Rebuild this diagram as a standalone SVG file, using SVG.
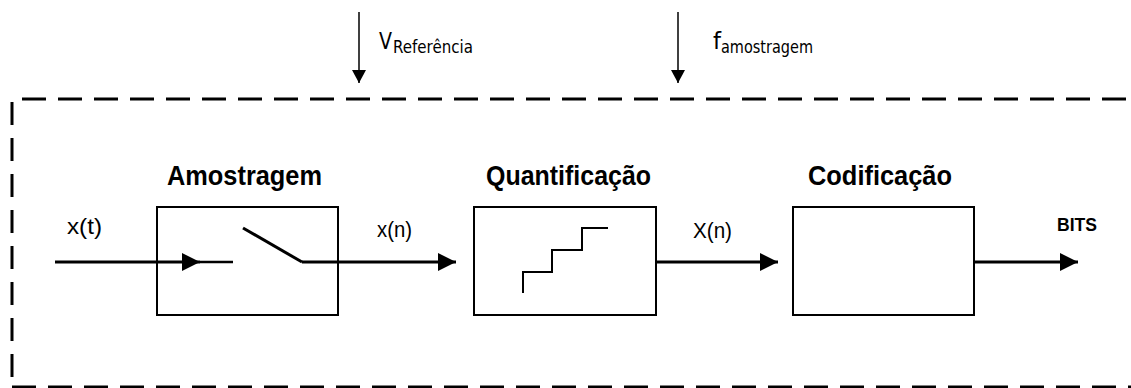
<svg xmlns="http://www.w3.org/2000/svg" width="1131" height="388" viewBox="0 0 1131 388">
<style>
.main{stroke:#000;stroke-width:3;fill:none}
.box{stroke:#000;stroke-width:2;fill:#fff}
.thin{stroke:#000;stroke-width:1.5;fill:none}
.dash{stroke:#000;stroke-width:3;fill:none;stroke-dasharray:24 12}
.lbl{font-family:"Liberation Sans",Arial,sans-serif;font-weight:bold;font-size:27px;fill:#000}
.sig{font-family:"Liberation Sans",Arial,sans-serif;font-size:22px;fill:#000}
.top{font-family:"DejaVu Sans",Verdana,sans-serif;fill:#000}
</style>
<defs>
<marker id="ah" markerUnits="userSpaceOnUse" markerWidth="20" markerHeight="20" refX="18" refY="9" orient="auto">
<path d="M0,0 L18,9 L0,18 Z" fill="#000"/>
</marker>
<marker id="ahs" markerUnits="userSpaceOnUse" markerWidth="16" markerHeight="16" refX="13" refY="7" orient="auto">
<path d="M0,0 L13,7 L0,14 Z" fill="#000"/>
</marker>
</defs>
<g id="border">
<line class="dash" x1="22" y1="99" x2="1140" y2="99"/>
<line class="dash" x1="12" y1="102" x2="12" y2="384" style="stroke-dasharray:23 13"/>
<line class="dash" x1="12" y1="387" x2="1140" y2="387"/>
</g>
<g id="amostragem">
<rect class="box" x="157" y="207" width="181" height="108"/>
<text class="lbl" x="167" y="185" textLength="155" lengthAdjust="spacingAndGlyphs">Amostragem</text>
<line class="main" x1="200" y1="262" x2="233" y2="262" style="stroke-width:2.5"/>
<line class="main" x1="243" y1="228" x2="302" y2="262"/>
</g>
<g id="quantificacao">
<rect class="box" x="474" y="207" width="182" height="108"/>
<text class="lbl" x="486" y="185" textLength="165" lengthAdjust="spacingAndGlyphs">Quantificação</text>
<path class="box" style="fill:none" d="M523,293 V272 H552 V250 H582 V228 H608"/>
</g>
<g id="codificacao">
<rect class="box" x="793" y="207" width="181" height="108"/>
<text class="lbl" x="808" y="185" textLength="144" lengthAdjust="spacingAndGlyphs">Codificação</text>
</g>
<g id="connectors">
<line class="main" x1="55" y1="262" x2="200" y2="262" marker-end="url(#ah)"/>
<line class="main" x1="302" y1="262" x2="456" y2="262" marker-end="url(#ah)"/>
<line class="main" x1="656" y1="262" x2="778" y2="262" marker-end="url(#ah)"/>
<line class="main" x1="974" y1="262" x2="1078" y2="262" marker-end="url(#ah)"/>
<line class="thin" x1="359" y1="12" x2="359" y2="83" marker-end="url(#ahs)"/>
<line class="thin" x1="678" y1="12" x2="678" y2="83" marker-end="url(#ahs)"/>
</g>
<g id="labels">
<text class="sig" x="67" y="234" textLength="35" lengthAdjust="spacingAndGlyphs">x(t)</text>
<text class="sig" x="377" y="237" textLength="35" lengthAdjust="spacingAndGlyphs">x(n)</text>
<text class="sig" x="693" y="238" textLength="39" lengthAdjust="spacingAndGlyphs">X(n)</text>
<text class="lbl" style="font-size:18.5px" x="1057" y="231" textLength="40" lengthAdjust="spacingAndGlyphs">BITS</text>
<text class="top" x="379" y="49" style="font-size:23px" textLength="13" lengthAdjust="spacingAndGlyphs">V</text>
<text class="top" x="393" y="53" style="font-size:18px" textLength="80" lengthAdjust="spacingAndGlyphs">Referência</text>
<text class="top" x="713" y="49" style="font-size:23px" textLength="8" lengthAdjust="spacingAndGlyphs">f</text>
<text class="top" x="721" y="53" style="font-size:18px" textLength="92" lengthAdjust="spacingAndGlyphs">amostragem</text>
</g>
</svg>
